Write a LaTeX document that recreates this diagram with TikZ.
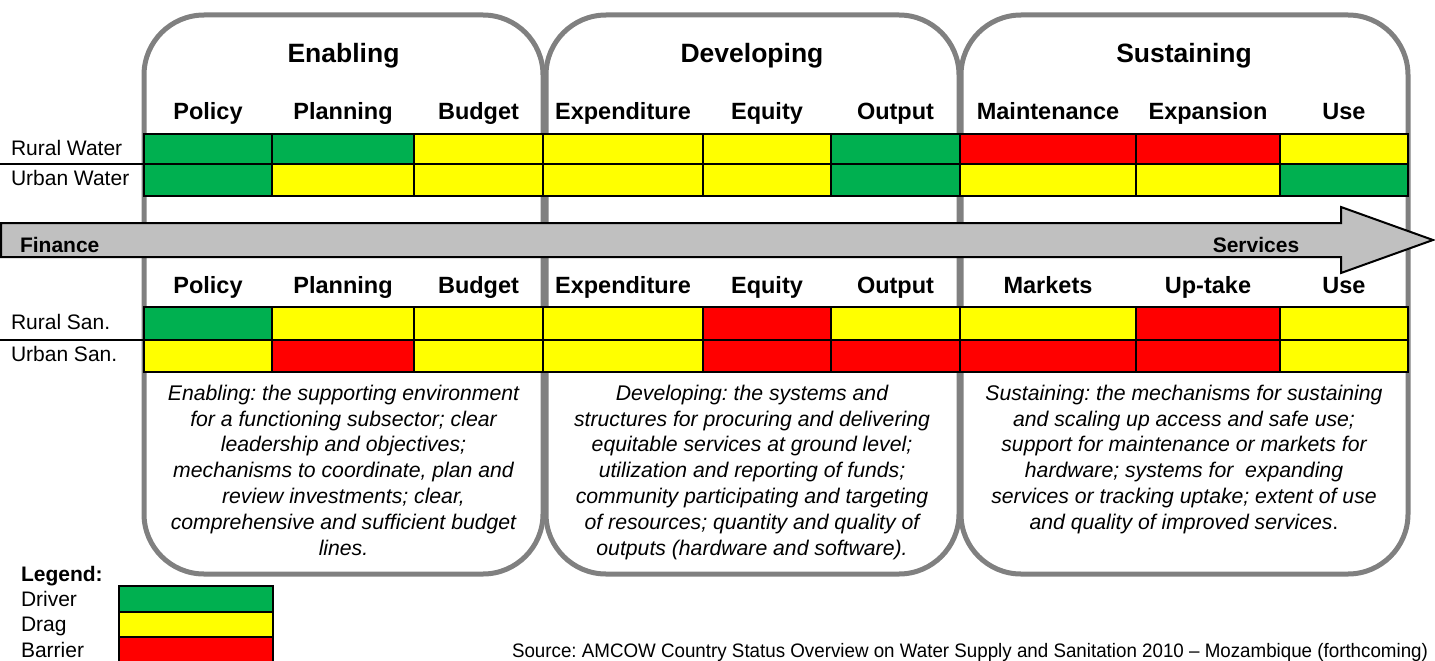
\documentclass[tikz,border=0pt]{standalone}
\usepackage{fontspec}
\setmainfont{Liberation Sans}
\usepackage{graphicx}
\definecolor{drv}{HTML}{00B050}
\definecolor{drg}{HTML}{FFFF00}
\definecolor{bar}{HTML}{FF0000}
\definecolor{boxgray}{HTML}{808080}
\definecolor{arrowgray}{HTML}{C0C0C0}
\frenchspacing
\begin{document}
\begin{tikzpicture}[x=1pt,y=-1pt,
  phase/.style={draw=boxgray, line width=5pt, rounded corners=60pt},
  cellbox/.style={draw=black, line width=2pt},
  txt/.style={inner sep=0pt, outer sep=0pt},
  lbl/.style={txt, anchor=base west, font=\fontsize{21}{25}\selectfont},
  hdr/.style={txt, anchor=base, font=\fontsize{23.5}{28}\selectfont\bfseries},
  ttl/.style={txt, anchor=base, font=\fontsize{26.5}{31}\selectfont\bfseries},
  desc/.style={txt, anchor=north, align=center, font=\fontsize{21.2}{25.8}\selectfont\itshape},
  flow/.style={draw=black, line width=2pt, fill=arrowgray, line join=miter},
  sep/.style={draw=black, line width=1.3pt}]
\useasboundingbox (0,0) rectangle (1435,661);

% phase boxes
\draw[phase] (144,15) rectangle (543,574);
\draw[phase] (546,15) rectangle (959,574);
\draw[phase] (961,15) rectangle (1408,574);

% row label separators
\draw[sep] (0,164) -- (144,164);
\draw[sep] (0,340) -- (144,340);

% cells
\def\xs{{144,272,414,543,703,831,960,1136,1280,1408}}
\foreach \ya/\yb/\row in {
  134/164/{drv,drv,drg,drg,drg,drv,bar,bar,drg},
  164/196/{drv,drg,drg,drg,drg,drv,drg,drg,drv},
  307/340/{drv,drg,drg,drg,bar,drg,drg,bar,drg},
  340/372/{drg,bar,drg,drg,bar,bar,bar,bar,drg}} {
  \foreach \c [count=\i from 0] in \row {
    \pgfmathsetmacro\xa{\xs[\i]}
    \pgfmathsetmacro\xb{\xs[\i+1]}
    \path[cellbox, fill=\c] (\xa,\ya) rectangle (\xb,\yb);
  }
}

% flow arrow
\path[flow] (1,223) -- (1341,223) -- (1341,207) -- (1433,240) -- (1341,273) -- (1341,257) -- (1,257) -- cycle;
\node[txt, anchor=base west, font=\fontsize{21}{25}\selectfont\bfseries] (fin) at (20,252.5) {Finance};
\node[txt, anchor=base, font=\fontsize{21}{25}\selectfont\bfseries] (srv) at (1256,252) {Services};

% titles
\node[ttl] (t1) at (343.5,63) {Enabling};
\node[ttl] (t2) at (752,63) {Developing};
\node[ttl] (t3) at (1184,63) {Sustaining};

% headers upper
\node[hdr] (h1) at (208,119) {Policy};
\node[hdr] (h2) at (343,119) {Planning};
\node[hdr] (h3) at (478.5,119) {Budget};
\node[hdr] (h4) at (623,119) {Expenditure};
\node[hdr] (h5) at (767,119) {Equity};
\node[hdr] (h6) at (895.5,119) {Output};
\node[hdr] (h7) at (1048,119) {Maintenance};
\node[hdr] (h8) at (1208,119) {Expansion};
\node[hdr] (h9) at (1344,119) {Use};
% headers lower
\node[hdr] (g1) at (208,293) {Policy};
\node[hdr] (g2) at (343,293) {Planning};
\node[hdr] (g3) at (478.5,293) {Budget};
\node[hdr] (g4) at (623,293) {Expenditure};
\node[hdr] (g5) at (767,293) {Equity};
\node[hdr] (g6) at (895.5,293) {Output};
\node[hdr] (g7) at (1048,293) {Markets};
\node[hdr] (g8) at (1208,293) {Up-take};
\node[hdr] (g9) at (1344,293) {Use};

% row labels
\node[lbl] (rw) at (11,155) {Rural Water};
\node[lbl] (uw) at (11,185) {Urban Water};
\node[lbl] (rs) at (11,329) {Rural San.};
\node[lbl] (us) at (11,361) {Urban San.};

% descriptions
\node[desc] (d1) at (343.5,385) {Enabling: the supporting environment\\for a functioning subsector; clear\\leadership and objectives;\\mechanisms to coordinate, plan and\\review investments; clear,\\comprehensive and sufficient budget\\lines.};
\node[desc] (d2) at (752,385) {Developing: the systems and\\structures for procuring and delivering\\equitable services at ground level;\\utilization and reporting of funds;\\community participating and targeting\\of resources; quantity and quality of\\outputs (hardware and software).};
\node[desc] (d3) at (1184,385) {Sustaining: the mechanisms for sustaining\\and scaling up access and safe use;\\support for maintenance or markets for\\hardware; systems for\ \ expanding\\services or tracking uptake; extent of use\\and quality of improved services{\upshape .}};

% legend
\node[lbl, font=\fontsize{21}{25}\selectfont\bfseries] (lg) at (21,581) {Legend:};
\node[lbl] (l1) at (21,606) {Driver};
\node[lbl] (l2) at (21,631) {Drag};
\node[lbl] (l3) at (21,657) {Barrier};
\path[cellbox, fill=drv] (119,586) rectangle (273,611.5);
\path[cellbox, fill=drg] (119,611.5) rectangle (273,637);
\path[cellbox, fill=bar] (119,637) rectangle (273,663);

% source
\node[txt, anchor=base west, font=\fontsize{19.5}{23}\selectfont] (src) at (512,657) {\resizebox{916pt}{\height}{Source: AMCOW Country Status Overview on Water Supply and Sanitation 2010 -- Mozambique (forthcoming)}};
\end{tikzpicture}
\end{document}
